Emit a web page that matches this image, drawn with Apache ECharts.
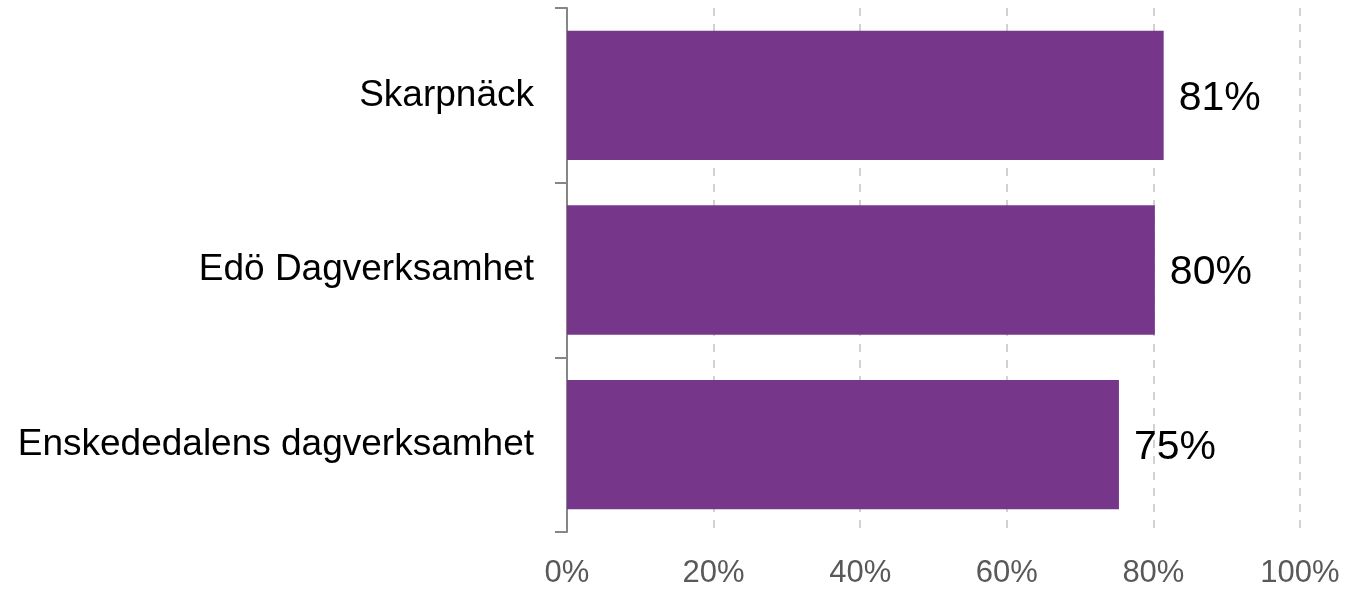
<!DOCTYPE html>
<html><head><meta charset="utf-8">
<script src="https://cdn.jsdelivr.net/npm/echarts@6/dist/echarts.min.js"></script>
<style>html,body{margin:0;padding:0;background:#fff}#c{width:1363px;height:589px}</style>
</head><body><div id="c"></div>
<script>
const categories = ["Skarpnäck", "Edö Dagverksamhet", "Enskededalens dagverksamhet"];
const values = [81.4, 80.2, 75.3];
const xTicks = [0, 20, 40, 60, 80, 100];

const chart = echarts.init(document.getElementById('c'), null, {renderer: 'canvas'});
chart.setOption({
  animation: false,
  backgroundColor: '#ffffff',
  grid: {left: 567, right: 63, top: 8, bottom: 57, containLabel: false},
  xAxis: {
    type: 'value', min: 0, max: 100, interval: 20,
    axisLine: {show: false}, axisTick: {show: false},
    axisLabel: {formatter: v => xTicks.includes(v) ? v + '%' : '', color: '#595959', fontSize: 31, fontFamily: 'Liberation Sans, Arial, sans-serif', margin: 26},
    splitLine: {show: true, lineStyle: {type: [8, 8], color: '#c3c3c3', width: 1.5}}
  },
  yAxis: {
    type: 'category', data: categories, inverse: true,
    axisLine: {show: true, lineStyle: {color: '#868686', width: 2}},
    axisTick: {show: true, length: 12, lineStyle: {color: '#868686', width: 2}},
    axisLabel: {color: '#000000', fontSize: 37, fontFamily: 'Liberation Sans, Arial, sans-serif', margin: 33},
    splitLine: {show: false}
  },
  series: [{
    type: 'bar', data: values, barCategoryGap: '26%',
    itemStyle: {color: '#76378a'},
    label: {show: true, position: 'right', distance: 15, offset: [0, 3], formatter: p => Math.round(p.value) + '%', color: '#000000', fontSize: 41, fontFamily: 'Liberation Sans, Arial, sans-serif'}
  }]
});
</script></body></html>
